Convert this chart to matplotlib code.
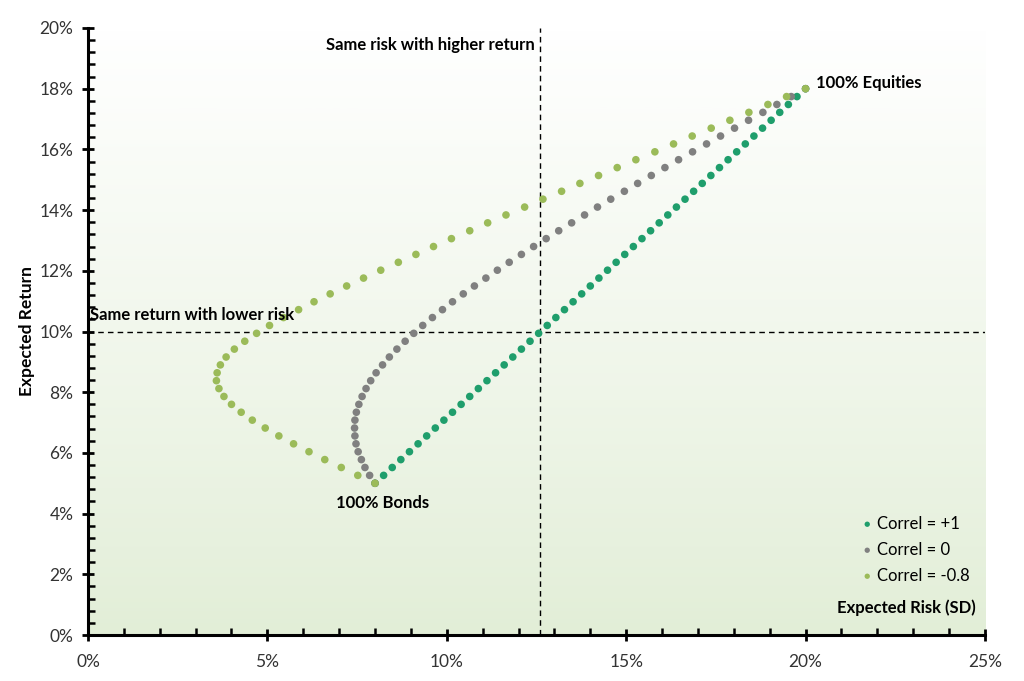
import matplotlib
matplotlib.use("Agg")
import matplotlib.pyplot as plt
from matplotlib.ticker import MultipleLocator, FuncFormatter
from matplotlib.colors import LinearSegmentedColormap
import numpy as np

plt.rcParams['font.family'] = ['Lato', 'DejaVu Sans']

# expected return (%) for each portfolio, same for all three correlations
expected_return = [5.00, 5.26, 5.52, 5.78, 6.04, 6.30, 6.56, 6.82, 7.08, 7.34,
                   7.60, 7.86, 8.12, 8.38, 8.64, 8.90, 9.16, 9.42, 9.68, 9.94,
                   10.20, 10.46, 10.72, 10.98, 11.24, 11.50, 11.76, 12.02, 12.28, 12.54,
                   12.80, 13.06, 13.32, 13.58, 13.84, 14.10, 14.36, 14.62, 14.88, 15.14,
                   15.40, 15.66, 15.92, 16.18, 16.44, 16.70, 16.96, 17.22, 17.48, 17.74,
                   18.00]

# expected risk (%) per correlation
risk_corr_plus1 = [8.00, 8.24, 8.48, 8.72, 8.96, 9.20, 9.44, 9.68, 9.92, 10.16,
                   10.40, 10.64, 10.88, 11.12, 11.36, 11.60, 11.84, 12.08, 12.32, 12.56,
                   12.80, 13.04, 13.28, 13.52, 13.76, 14.00, 14.24, 14.48, 14.72, 14.96,
                   15.20, 15.44, 15.68, 15.92, 16.16, 16.40, 16.64, 16.88, 17.12, 17.36,
                   17.60, 17.84, 18.08, 18.32, 18.56, 18.80, 19.04, 19.28, 19.52, 19.76,
                   20.00]
risk_corr_0 = [8.00, 7.85, 7.72, 7.62, 7.53, 7.47, 7.44, 7.43, 7.44, 7.48,
               7.55, 7.64, 7.75, 7.88, 8.03, 8.21, 8.40, 8.61, 8.84, 9.08,
               9.33, 9.60, 9.88, 10.16, 10.46, 10.77, 11.09, 11.41, 11.74, 12.08,
               12.42, 12.77, 13.12, 13.48, 13.84, 14.20, 14.57, 14.95, 15.32, 15.70,
               16.08, 16.46, 16.85, 17.24, 17.63, 18.02, 18.41, 18.81, 19.20, 19.60,
               20.00]
risk_corr_m08 = [8.00, 7.52, 7.06, 6.60, 6.16, 5.73, 5.32, 4.94, 4.58, 4.27,
                 4.00, 3.79, 3.65, 3.58, 3.60, 3.69, 3.85, 4.08, 4.37, 4.70,
                 5.06, 5.45, 5.87, 6.30, 6.75, 7.21, 7.68, 8.16, 8.65, 9.14,
                 9.63, 10.13, 10.64, 11.14, 11.65, 12.17, 12.68, 13.20, 13.71, 14.23,
                 14.75, 15.27, 15.80, 16.32, 16.84, 17.37, 17.89, 18.42, 18.95, 19.47,
                 20.00]

series_labels = ["Correl = +1", "Correl = 0", "Correl = -0.8"]
series_colors = ["#1f9e6c", "#808080", "#9bbb59"]

fig = plt.figure(figsize=(10.24, 6.81), dpi=100)
ax = fig.add_axes([0.0859, 0.0675, 0.876, 0.8914])

# white-to-green gradient background
grad_cmap = LinearSegmentedColormap.from_list("bg", ["#e2eed7", "#ffffff"])
grad = np.linspace(0, 1, 256).reshape(-1, 1) ** 0.9
ax.imshow(grad, cmap=grad_cmap, aspect="auto", origin="lower",
          extent=[0, 25, 0, 20], zorder=0)

for risk, lab, col in zip([risk_corr_plus1, risk_corr_0, risk_corr_m08],
                          series_labels, series_colors):
    ax.scatter(risk, expected_return, s=30, color=col, label=lab,
               edgecolors="none", zorder=3)

ax.axvline(12.6, color="black", ls=(0, (4, 3)), lw=1, zorder=2)
ax.axhline(10, color="black", ls=(0, (4, 3)), lw=1, zorder=2)

ax.text(12.45, 19.45, "Same risk with higher return", ha="right", va="center",
        fontsize=12, fontweight="bold")
ax.text(0.05, 10.55, "Same return with lower risk", ha="left", va="center",
        fontsize=12, fontweight="bold")
ax.text(8.2, 4.35, "100% Bonds", ha="center", va="center",
        fontsize=12, fontweight="bold")
ax.text(20.3, 18.2, "100% Equities", ha="left", va="center",
        fontsize=12, fontweight="bold")
ax.text(24.75, 0.9, "Expected Risk (SD)", ha="right", va="center",
        fontsize=12, fontweight="bold")

ax.set_ylabel("Expected Return", fontsize=12.5, fontweight="bold", labelpad=3)

ax.set_xlim(0, 25)
ax.set_ylim(0, 20)
ax.xaxis.set_major_locator(MultipleLocator(5))
ax.xaxis.set_minor_locator(MultipleLocator(1))
ax.yaxis.set_major_locator(MultipleLocator(2))
ax.yaxis.set_minor_locator(MultipleLocator(0.4))
pct = FuncFormatter(lambda v, p: f"{v:.0f}%")
ax.xaxis.set_major_formatter(pct)
ax.yaxis.set_major_formatter(pct)
ax.tick_params(which="major", direction="inout", length=9, width=2,
               labelsize=12.5, colors="black", pad=6)
ax.tick_params(which="minor", direction="in", length=5, width=1.8)
ax.tick_params(axis="x", which="major", pad=9)
ax.tick_params(axis="x", labelcolor="#333333")
ax.tick_params(axis="y", labelcolor="#333333")

for side in ["top", "right"]:
    ax.spines[side].set_visible(False)
for side in ["left", "bottom"]:
    ax.spines[side].set_linewidth(2.2)

leg = ax.legend(loc="lower right", bbox_to_anchor=(1.0, 0.06), frameon=False,
                fontsize=12, handletextpad=0.1, labelspacing=0.6,
                markerscale=0.7, handlelength=1.0)

fig.savefig("out.png", dpi=100)
